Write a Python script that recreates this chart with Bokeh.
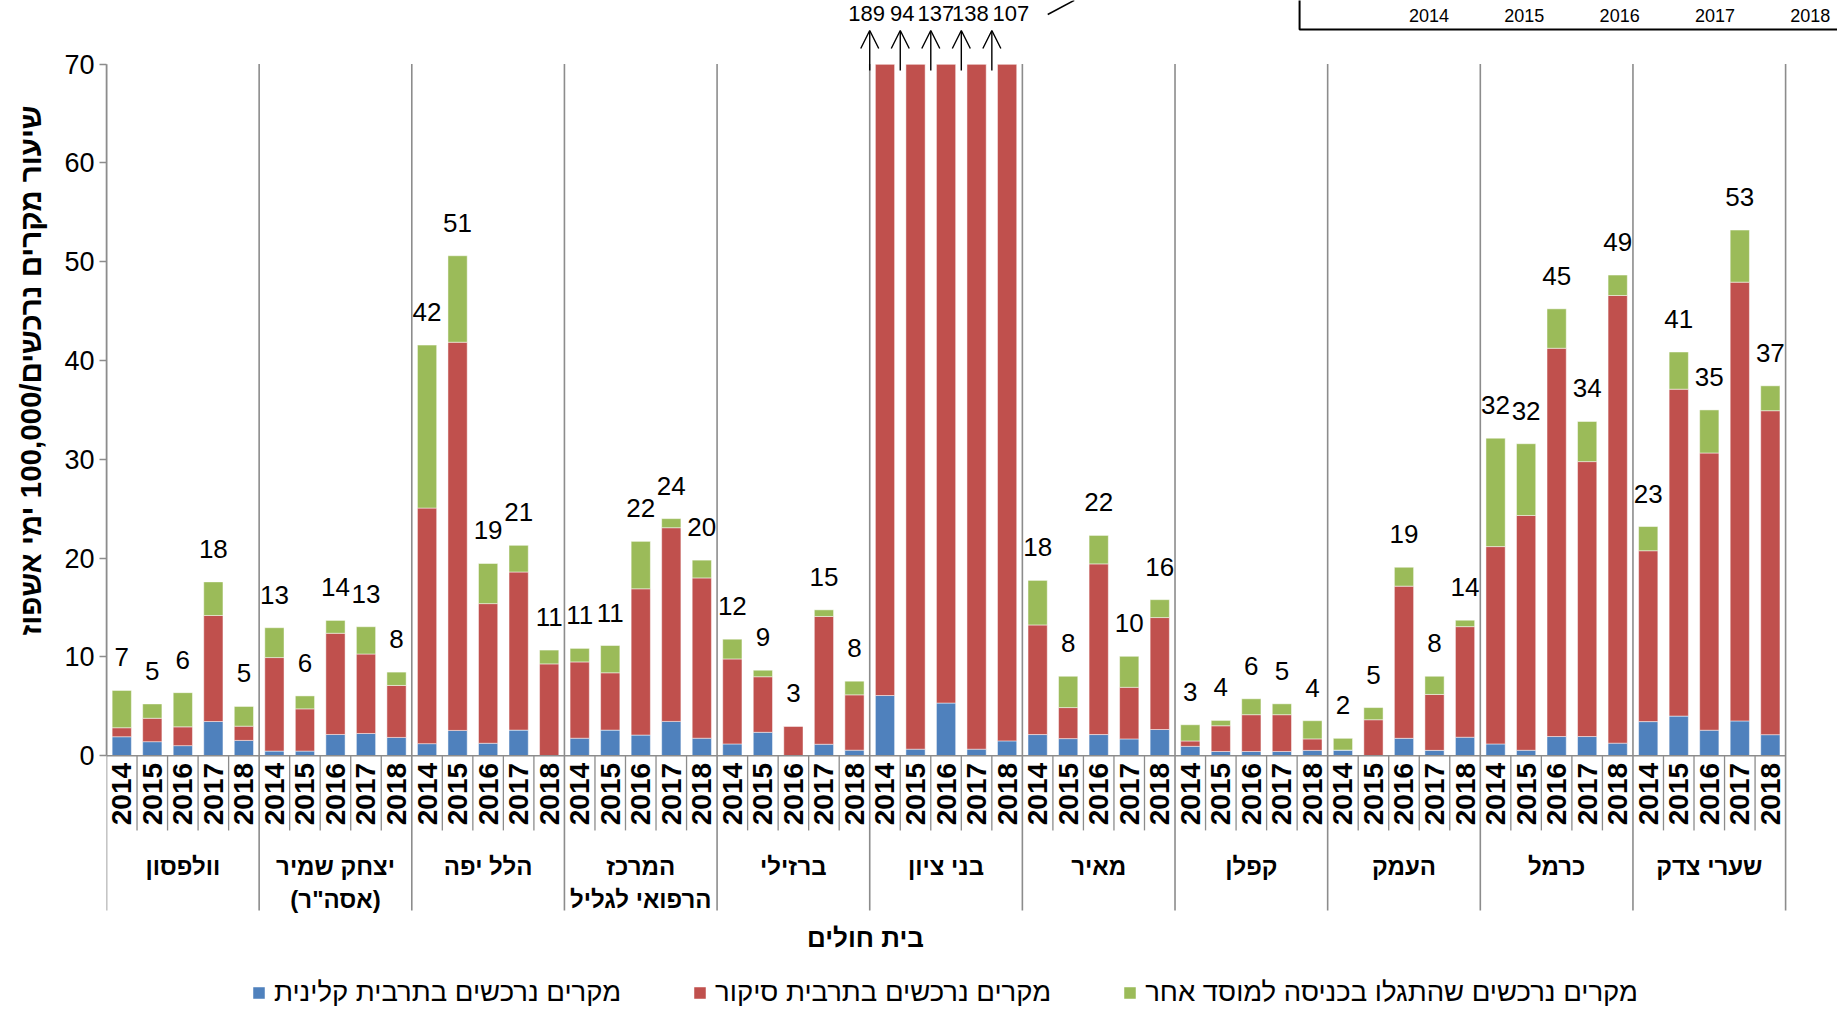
import numpy as np
from bokeh.plotting import figure
from bokeh.models import (ColumnDataSource, Range1d, FixedTicker, Legend, LegendItem,
                          Arrow, OpenHead, Label, Title)
from bokeh.core.properties import value
from bokeh.embed import file_html
from bokeh.resources import INLINE

# ---------------- data ----------------
hospitals = ["וולפסון", "יצחק שמיר\n(אסה\"ר)", "הלל יפה", "המרכז\nהרפואי לגליל", "ברזילי",
             "בני ציון", "מאיר", "קפלן", "העמק", "כרמל", "שערי צדק"]
years = ["2014", "2015", "2016", "2017", "2018"]

series_names = ["מקרים נרכשים בתרבית קלינית",
                "מקרים נרכשים בתרבית סיקור",
                "מקרים נרכשים שהתגלו בכניסה למוסד אחר"]

# clinical culture cases (blue)
clinical = [1.93, 1.43, 1.03, 3.47, 1.56,
            0.48, 0.48, 2.16, 2.26, 1.86,
            1.23, 2.57, 1.27, 2.60, 0.00,
            1.78, 2.60, 2.10, 3.48, 1.78,
            1.20, 2.38, 0.00, 1.17, 0.57,
            6.10, 0.67, 5.34, 0.67, 1.51,
            2.15, 1.74, 2.15, 1.71, 2.66,
            0.96, 0.44, 0.44, 0.44, 0.55,
            0.58, 0.00, 1.77, 0.55, 1.88,
            1.20, 0.56, 1.95, 1.95, 1.28,
            3.46, 4.02, 2.59, 3.53, 2.14]
# surveillance culture cases (red)
surveillance = [0.91, 2.37, 1.90, 10.73, 1.44,
                9.46, 4.27, 10.24, 8.04, 5.26,
                23.84, 39.28, 14.13, 16.00, 9.30,
                7.72, 5.80, 14.80, 19.60, 16.22,
                8.60, 5.62, 3.00, 12.93, 5.60,
                182.90, 93.33, 131.66, 137.33, 105.49,
                11.09, 3.14, 17.27, 5.22, 11.33,
                0.54, 2.60, 3.72, 3.72, 1.16,
                0.00, 3.65, 15.40, 5.66, 11.19,
                19.97, 23.76, 39.29, 27.82, 45.30,
                17.29, 33.08, 28.05, 44.40, 32.78]
# cases found on admission from another institution (green)
other_inst = [3.78, 1.45, 3.46, 3.40, 2.00,
              3.02, 1.31, 1.30, 2.76, 1.35,
              16.49, 8.75, 4.06, 2.70, 1.40,
              1.37, 2.76, 4.80, 0.92, 1.80,
              2.00, 0.66, 0.00, 0.67, 1.38,
              0.00, 0.00, 0.00, 0.00, 0.00,
              4.51, 3.17, 2.88, 3.14, 1.81,
              1.64, 0.54, 1.61, 1.10, 1.84,
              1.19, 1.23, 1.91, 1.84, 0.65,
              10.97, 7.26, 3.99, 4.06, 2.07,
              2.45, 3.76, 4.36, 5.27, 2.52]
total_labels = [7, 5, 6, 18, 5,
                13, 6, 14, 13, 8,
                42, 51, 19, 21, 11,
                11, 11, 22, 24, 20,
                12, 9, 3, 15, 8,
                189, 94, 137, 138, 107,
                18, 8, 22, 10, 16,
                3, 4, 6, 5, 4,
                2, 5, 19, 8, 14,
                32, 32, 45, 34, 49,
                23, 41, 35, 53, 37]
y_ticks = [0, 10, 20, 30, 40, 50, 60, 70]

# ---------------- style / layout ----------------
FONT = "Liberation Sans"
BLUE, RED, GREEN = "#4F81BD", "#C0504D", "#9BBB59"
GRAY = "#8C8C8C"
W, H = 1837, 1008
LEFT = 106
AXIS_MAX = 70
Y_MIN, Y_MAX = -25.57, 76.43
X_MAX = 56.70
BAR_W = 0.63
YEAR_SEP_BOTTOM = -7.55
GROUP_SEP_BOTTOM = -15.65
YEAR_LABEL_TOP = -0.72
GROUP_LABEL_TOP = -9.85
BROKEN_LABEL_DX = np.array([-3, 2, 5, 9, 19])

n_years = len(years)
n = len(hospitals) * n_years
x = np.arange(n) + 0.5

b = np.array(clinical)
r = np.array(surveillance)
g = np.array(other_inst)
c1 = b
c2 = b + r
c3 = c2 + g

src = ColumnDataSource(dict(
    x=x,
    c1=np.minimum(c1, AXIS_MAX),
    c2=np.minimum(c2, AXIS_MAX),
    c3=np.minimum(c3, AXIS_MAX),
))

p = figure(width=W, height=H, x_range=Range1d(0, X_MAX), y_range=Range1d(Y_MIN, Y_MAX),
           x_axis_location=None, output_backend="svg", toolbar_location=None,
           min_border_left=LEFT, min_border_right=0, min_border_top=0, min_border_bottom=0)
p.grid.visible = False
p.outline_line_color = None
p.background_fill_color = "white"
p.border_fill_color = "white"

bar_kw = dict(width=BAR_W, source=src, line_color="white", line_width=0.8, line_alpha=0.6)
rb = p.vbar(x="x", bottom=0, top="c1", fill_color=BLUE, **bar_kw)
rr = p.vbar(x="x", bottom="c1", top="c2", fill_color=RED, **bar_kw)
rg = p.vbar(x="x", bottom="c2", top="c3", fill_color=GREEN, **bar_kw)

# separators and category axis
gx = np.arange(0, n + 1, n_years)
p.segment(x0=gx, y0=AXIS_MAX, x1=gx, y1=GROUP_SEP_BOTTOM, line_color=GRAY, line_width=1.6)
yx = np.array([i for i in range(n + 1) if i % n_years != 0])
p.segment(x0=yx, y0=0, x1=yx, y1=YEAR_SEP_BOTTOM, line_color=GRAY, line_width=1.3)
p.segment(x0=[0], y0=[0], x1=[n], y1=[0], line_color=GRAY, line_width=1.6)

year_src = ColumnDataSource(dict(x=x, y=np.full(n, YEAR_LABEL_TOP), t=years * len(hospitals)))
p.text(x="x", y="y", text="t", source=year_src, angle=np.pi / 2, text_align="right",
       text_baseline="middle", text_font=value(FONT), text_font_size="28px",
       text_font_style="bold", text_color="black")

grp_src = ColumnDataSource(dict(x=gx[:-1] + n_years / 2, y=np.full(len(hospitals), GROUP_LABEL_TOP),
                                t=hospitals))
p.text(x="x", y="y", text="t", source=grp_src, text_align="center", text_baseline="top",
       text_font=value(FONT), text_font_size="24px", text_font_style="bold",
       text_line_height=1.22, text_color="black")

# data labels
lab = np.array([str(v) for v in total_labels])
ok = c3 <= AXIS_MAX
lab_src = ColumnDataSource(dict(x=x[ok], y=c3[ok], t=lab[ok]))
p.text(x="x", y="y", text="t", source=lab_src, y_offset=-33, text_align="center",
       text_baseline="alphabetic", text_font=value(FONT), text_font_size="26px",
       text_color="black")

brk = ~ok
xa = x[brk] - 0.5
brk_src = ColumnDataSource(dict(x=xa, y=np.full(brk.sum(), AXIS_MAX), t=lab[brk],
                                dx=BROKEN_LABEL_DX,
                                y0=np.full(brk.sum(), AXIS_MAX - 0.65),
                                y1=np.full(brk.sum(), AXIS_MAX + 3.39)))
p.text(x="x", y="y", text="t", source=brk_src, x_offset="dx", y_offset=-51, text_align="center",
       text_baseline="alphabetic", text_font=value(FONT), text_font_size="22px",
       text_color="black")
p.add_layout(Arrow(end=OpenHead(size=18, line_width=1.4, line_color="black"),
                   x_start="x", y_start="y0", x_end="x", y_end="y1", source=brk_src,
                   line_color="black", line_width=1.4))

# partially visible inset (top right)
p.line(x=[39.08, 39.08, X_MAX + 1], y=[Y_MAX + 1, 73.49, 73.49], line_color="black", line_width=2)
p.line(x=[30.83, 31.70], y=[75.01, 76.45], line_color="black", line_width=1.5)
inset_src = ColumnDataSource(dict(x=43.32 + 3.122 * np.arange(len(years)),
                                  y=np.full(len(years), 74.91), t=years))
p.text(x="x", y="y", text="t", source=inset_src, text_align="center", text_baseline="alphabetic",
       text_font=value(FONT), text_font_size="18px", text_color="black")

# axis titles
p.add_layout(Label(x=24.86, y=-18.48, text="בית חולים", text_align="center", text_baseline="middle",
                   text_font=FONT, text_font_size="26px", text_font_style="bold", text_color="black"))
p.add_layout(Title(text="שיעור מקרים נרכשים/100,000 ימי אשפוז", align="left", offset=373,
                   vertical_align="top", standoff=26, text_font=FONT, text_font_size="29.5px",
                   text_font_style="bold", text_color="black"), "left")

# y axis
ax = p.yaxis[0]
ax.ticker = FixedTicker(ticks=y_ticks)
ax.bounds = (0, AXIS_MAX)
ax.axis_line_color = GRAY
ax.axis_line_width = 1.6
ax.major_tick_line_color = GRAY
ax.major_tick_line_width = 1.4
ax.major_tick_out = 7
ax.major_tick_in = 0
ax.minor_tick_out = 0
ax.minor_tick_in = 0
ax.major_label_text_font = FONT
ax.major_label_text_font_size = "27px"
ax.major_label_text_color = "black"
ax.major_label_standoff = 5

legend = Legend(items=[LegendItem(label=series_names[0], renderers=[rb]),
                       LegendItem(label=series_names[1], renderers=[rr]),
                       LegendItem(label=series_names[2], renderers=[rg])],
                orientation="horizontal", location=(145, 0), glyph_width=15, glyph_height=15,
                label_standoff=8, spacing=71, padding=0, margin=0, border_line_color=None,
                background_fill_alpha=0, label_text_font=FONT, label_text_font_size="27.5px",
                label_text_color="black")
p.add_layout(legend)

open("out.html", "w").write(file_html(p, INLINE))
